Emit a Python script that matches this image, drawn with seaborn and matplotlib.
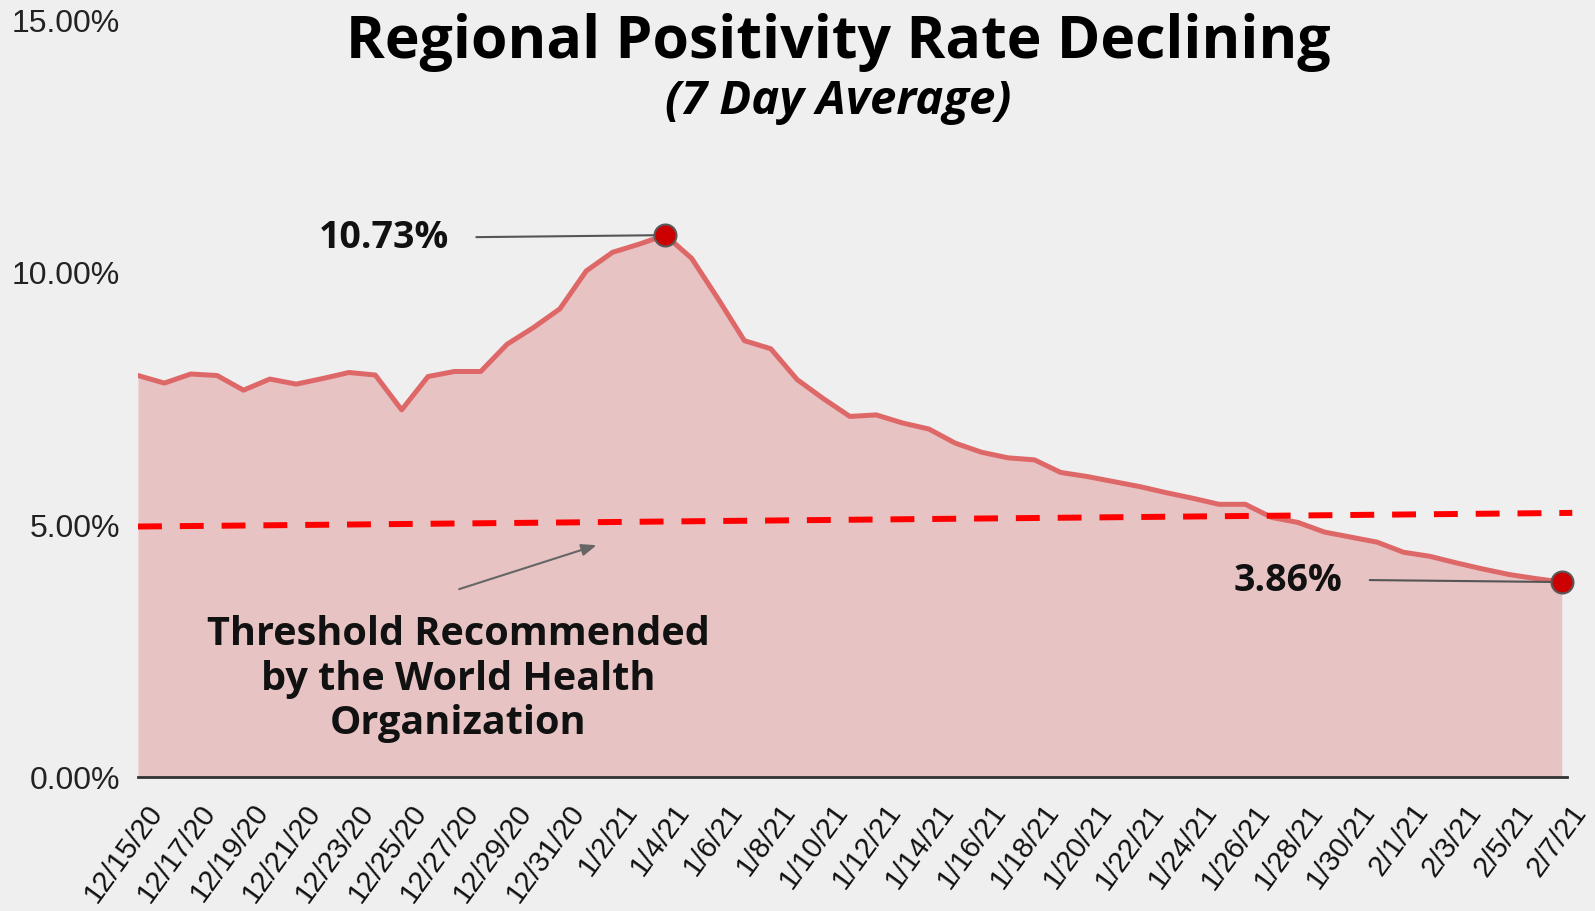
import numpy as np
import pandas as pd
import matplotlib
matplotlib.use("Agg")
import matplotlib.pyplot as plt
import matplotlib.transforms as mtransforms
import seaborn as sns

# ------------------ data ------------------ #
dates = pd.date_range("2020-12-15", "2021-02-07", freq="D")
positivity = [
    7.95, 7.80, 7.98, 7.95, 7.66, 7.88, 7.78, 7.89, 8.01, 7.96,
    7.27, 7.93, 8.03, 8.03, 8.57, 8.90, 9.27, 10.02, 10.39, 10.55,
    10.73, 10.27, 9.47, 8.64, 8.48, 7.87, 7.49, 7.14, 7.17, 7.01,
    6.89, 6.61, 6.43, 6.32, 6.28, 6.03, 5.95, 5.85, 5.75, 5.63,
    5.52, 5.40, 5.40, 5.14, 5.04, 4.85, 4.75, 4.65, 4.45, 4.37,
    4.24, 4.12, 4.01, 3.93, 3.86,
]
tick_labels = [
    "12/15/20", "12/17/20", "12/19/20", "12/21/20", "12/23/20", "12/25/20",
    "12/27/20", "12/29/20", "12/31/20", "1/2/21", "1/4/21", "1/6/21",
    "1/8/21", "1/10/21", "1/12/21", "1/14/21", "1/16/21", "1/18/21",
    "1/20/21", "1/22/21", "1/24/21", "1/26/21", "1/28/21", "1/30/21",
    "2/1/21", "2/3/21", "2/5/21", "2/7/21",
]
y_ticks = [0, 5, 10, 15]
threshold_ends = [4.96, 5.23]   # WHO threshold line, start / end
threshold_note = "Threshold Recommended\nby the World Health\nOrganization"

df = pd.DataFrame({"day": np.arange(len(dates)), "date": dates, "rate": positivity})

# ------------------ style ------------------ #
sns.set_style("white")
plt.rcParams["font.family"] = ["Liberation Sans", "DejaVu Sans"]
BG = "#efefef"
BOLD = ["Open Sans", "DejaVu Sans"]

fig = plt.figure(figsize=(15.95, 9.12), dpi=100, facecolor=BG)
ax = fig.add_axes([138 / 1595, 134 / 912, (1567 - 138) / 1595, (891.5 - 134) / 912])
ax.set_facecolor(BG)

# area + line
ax.fill_between(df["day"], df["rate"], 0, color="#e8c3c3", lw=0, zorder=1)
sns.lineplot(data=df, x="day", y="rate", color="#de6868", lw=3.6, ax=ax, zorder=3)

# threshold line (runs a bit past the last point)
ax.plot([df["day"].iloc[0], df["day"].iloc[-1] + 0.4], threshold_ends,
        color="#ff0000", lw=4.3, dashes=(4, 3), clip_on=False, zorder=4)

# highlighted points
hi = df.loc[[df["rate"].idxmax(), df.index[-1]]]
sns.scatterplot(data=hi, x="day", y="rate", s=250, color="#cc0000",
                edgecolor="#595959", linewidth=1.5, ax=ax, zorder=5, clip_on=False)

# labels for highlighted points
for (_, row), dx_txt, dx_line, dy in zip(hi.iterrows(), [-216, -219], [-189, -192], [-2, 2]):
    ax.annotate("", xy=(row["day"], row["rate"]), xytext=(dx_line, dy),
                textcoords="offset pixels",
                arrowprops=dict(arrowstyle="-", color="#555555", lw=1.5,
                                shrinkA=0, shrinkB=0), zorder=4)
    ax.annotate(f"{row['rate']:.2f}%", xy=(row["day"], row["rate"]),
                xytext=(dx_txt, dy), textcoords="offset pixels",
                ha="right", va="center", fontsize=27, fontweight="bold",
                family=BOLD, color="#111111")

# threshold note + arrow
ax.text(12.14, 1.96, threshold_note, ha="center", va="center", fontsize=28.5,
        fontweight="bold", family=BOLD, color="#111111", linespacing=1.17)
ax.annotate("", xy=(17.39, 4.59), xytext=(12.18, 3.72),
            arrowprops=dict(arrowstyle="-|>,head_length=0.45,head_width=0.18",
                            mutation_scale=20, color="#666666", lw=1.5,
                            shrinkA=0, shrinkB=0))

# axes
ax.set_xlim(0, 54.2)
ax.set_ylim(0, 15)
ax.set_xlabel("")
ax.set_ylabel("")
ax.set_yticks(y_ticks)
ax.set_yticklabels([f"{v:.2f}%" for v in y_ticks], fontsize=23, color="#222222")
ax.set_xticks(df["day"].iloc[::2])
ax.tick_params(axis="x", length=0, pad=21)
ax.tick_params(axis="y", length=0, pad=13)
ax.set_xticklabels(tick_labels, rotation=54, ha="right", va="center",
                   rotation_mode="anchor", fontsize=21, color="#111111")
# the sheet's date labels sit a little right of their points
shift = mtransforms.ScaledTranslation(19 / 100, 0, fig.dpi_scale_trans)
for lab in ax.get_xticklabels():
    lab.set_transform(lab.get_transform() + shift)
for s in ["left", "top", "right"]:
    ax.spines[s].set_visible(False)
ax.spines["bottom"].set_color("#333333")
ax.spines["bottom"].set_linewidth(2)
ax.grid(False)

# titles
fig.text(0.5254, 0.953, "Regional Positivity Rate Declining", ha="center", va="center",
         fontsize=42.5, fontweight="bold", family=BOLD, color="#000000")
fig.text(0.5254, 0.889, "(7 Day Average)", ha="center", va="center",
         fontsize=34, fontweight="bold", style="italic", family=BOLD, color="#000000")

fig.savefig("out.png", dpi=100, facecolor=BG)
